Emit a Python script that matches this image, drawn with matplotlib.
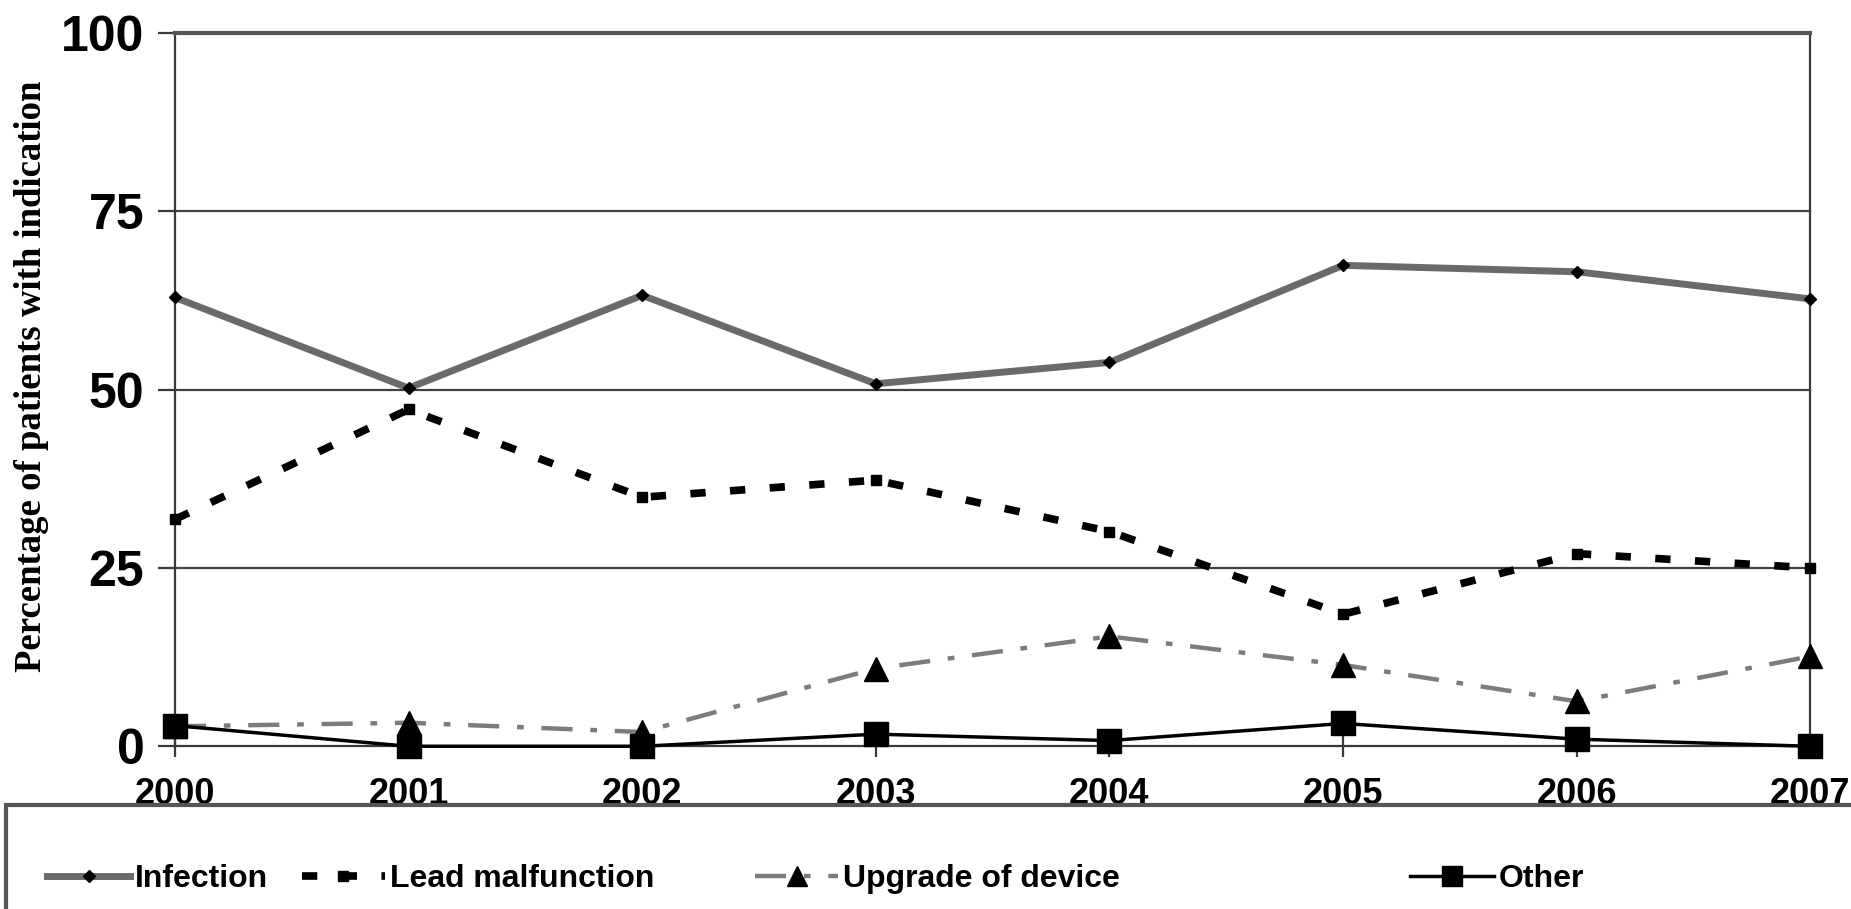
import matplotlib
matplotlib.use("Agg")
import matplotlib.pyplot as plt
from matplotlib.patches import Rectangle

# data
years = [2000, 2001, 2002, 2003, 2004, 2005, 2006, 2007]
infection = [62.9, 50.2, 63.2, 50.8, 53.8, 67.4, 66.5, 62.7]
lead_malfunction = [31.8, 47.2, 34.9, 37.3, 30.1, 18.5, 27.0, 25.0]
upgrade = [2.8, 3.3, 2.0, 10.9, 15.4, 11.4, 6.3, 12.6]
other = [2.9, 0.0, 0.0, 1.7, 0.8, 3.2, 1.0, 0.0]
yticks = [0, 25, 50, 75, 100]

sans = ['Liberation Sans', 'DejaVu Sans']
serif = ['Liberation Serif', 'DejaVu Serif']

fig = plt.figure(figsize=(18.51, 9.09), dpi=100)
ax = fig.add_axes([0.0945, 0.179, 0.8835, 0.785])

# lines
ax.plot(years, infection, color='#6a6a6a', lw=5, marker='D', ms=6,
        mfc='black', mec='black', label='Infection', zorder=3)
ax.plot(years, lead_malfunction, color='black', lw=5.5, dashes=(2, 3.2),
        marker='s', ms=7, mfc='black', mec='black', label='Lead malfunction', zorder=3)
ax.plot(years, upgrade, color='#7c7c7c', lw=3.2, dashes=(7, 4, 1.5, 4),
        marker='^', ms=17, mfc='black', mec='black', label='Upgrade of device', zorder=4)
ax.plot(years, other, color='black', lw=2.5, marker='s', ms=17,
        mfc='black', mec='black', label='Other', zorder=5)

ax.set_xlim(2000, 2007)
ax.set_ylim(0, 100)
ax.set_yticks(yticks)
ax.set_xticks(years)
for y in [25, 50, 75]:
    ax.axhline(y, color='#404040', lw=1.6, zorder=1)

for s in ['left', 'right', 'bottom']:
    ax.spines[s].set_color('#3a3a3a')
    ax.spines[s].set_linewidth(1.6)
ax.spines['top'].set_color('#555555')
ax.spines['top'].set_linewidth(3)
for ln in ax.lines:
    ln.set_clip_on(False)

ax.tick_params(axis='y', direction='out', length=12, width=1.6, color='#3a3a3a', pad=10)
ax.tick_params(axis='x', direction='inout', length=16, width=1.6, color='#3a3a3a', pad=14)

for lab in ax.get_yticklabels():
    lab.set_family(sans)
    lab.set_fontweight('bold')
    lab.set_fontsize(36)
for lab in ax.get_xticklabels():
    lab.set_family(sans)
    lab.set_fontweight('bold')
    lab.set_fontsize(26)

fig.text(0.017, 0.586, 'Percentage of patients with indication', rotation=90,
         va='center', ha='center', family=serif, fontweight='bold', fontsize=26.5)

# legend box at bottom
fig.patches.append(Rectangle((0.003, -0.1), 1.2, 0.2144, transform=fig.transFigure,
                             fill=False, edgecolor='#555555', lw=3))
handles, labels = ax.get_legend_handles_labels()
leg_x = [0.0255, 0.163, 0.408, 0.762]
for h, lab, x in zip(handles, labels, leg_x):
    leg = fig.legend([h], [lab], loc='center left', bbox_to_anchor=(x, 0.033),
                     frameon=False, borderpad=0, borderaxespad=0,
                     handlelength=2.6, handletextpad=0.15,
                     prop={'family': sans, 'weight': 'bold', 'size': 23})
    for lh in leg.legend_handles:
        if lab in ('Upgrade of device', 'Other'):
            lh.set_markersize(15)

fig.savefig('out.png', dpi=100)
